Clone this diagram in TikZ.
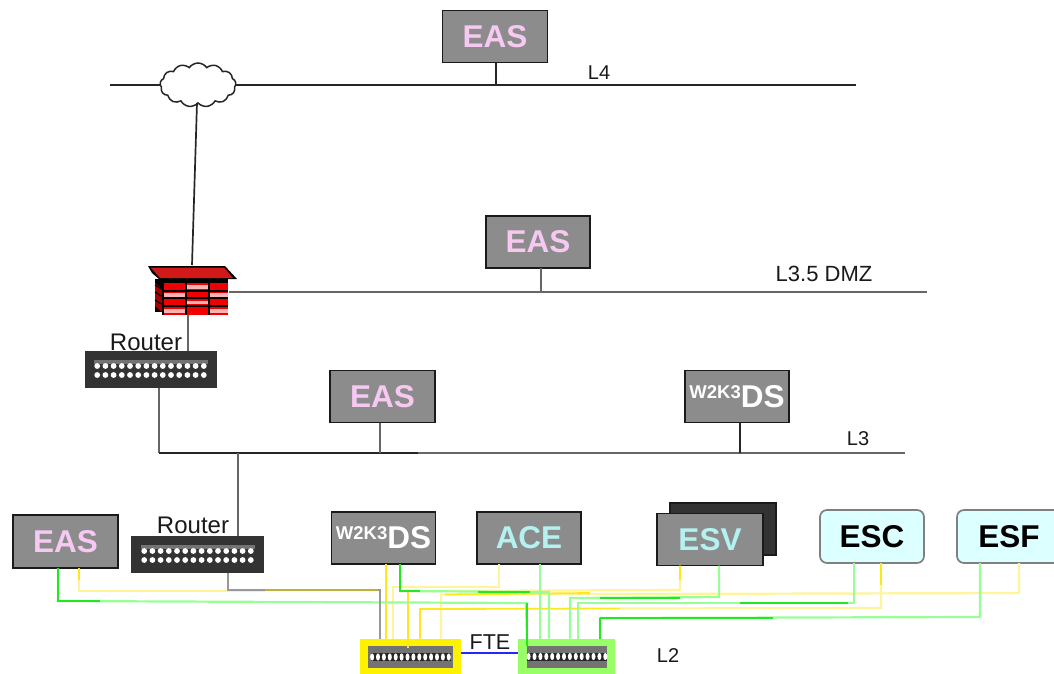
\documentclass[tikz,border=0pt]{standalone}
\usepackage{fontspec}
\setmainfont{Liberation Sans}
\usetikzlibrary{shapes.symbols,calc}
\definecolor{srvgray}{HTML}{8C8C8C}
\definecolor{edge}{HTML}{1A1A1A}
\definecolor{pinktxt}{HTML}{F6C8F2}
\definecolor{cyantxt}{HTML}{B4F2F2}
\definecolor{escfill}{HTML}{DCFFFF}
\definecolor{paley}{HTML}{FFF49A}
\definecolor{deepy}{HTML}{FFE81A}
\definecolor{paleg}{HTML}{98FF98}
\definecolor{deepg}{HTML}{22E822}
\definecolor{fwred}{HTML}{F00000}
\definecolor{swgreen}{HTML}{99FF66}
\tikzset{
  srv/.style={draw=edge,line width=1.7pt,fill=srvgray,minimum width=104pt,minimum height=52pt,inner sep=0pt,outer sep=0pt,font=\bfseries\fontsize{31.5}{31.5}\selectfont},
  pinkbox/.style={srv,text=pinktxt},
  cyanbox/.style={srv,text=cyantxt},
  svcbox/.style={draw=black!50,line width=1.7pt,rounded corners=7pt,fill=escfill,minimum width=104pt,minimum height=53pt,inner sep=0pt,outer sep=0pt,text=black,font=\bfseries\fontsize{31.5}{31.5}\selectfont},
  routerbox/.style={fill=black!80,minimum width=132pt,minimum height=37pt,inner sep=0pt,outer sep=0pt},
  lbl/.style={inner sep=0pt,text=black!90,font=\fontsize{20}{20}\selectfont},
  bus/.style={line width=2pt,draw=black!60},
  blk/.style={line width=1.7pt,draw=black!85},
  py/.style={line width=2.2pt,draw=paley},
  dy/.style={line width=1.8pt,draw=deepy},
  pg/.style={line width=2.2pt,draw=paleg},
  dg/.style={line width=1.8pt,draw=deepg},
  sw/.style={minimum width=97pt,minimum height=35pt,inner sep=0pt,outer sep=0pt},
  swin/.style={fill=black!55,minimum width=82pt,minimum height=22pt,inner sep=0pt,outer sep=0pt}
}
\newcommand{\rdots}[1]{%
  \begin{scope}[shift={(#1.center)}]
    \fill[black!55] (-57,-9.5) rectangle (57,-5.5);
    \foreach \i in {0,...,13}{
      \fill[white] (\i*8.2-53.3,-3) circle (2.9);
      \fill[white] (\i*8.2-53.3,6) circle (2.9);
    }
  \end{scope}}
\newcommand{\swdots}[1]{%
  \begin{scope}[shift={(#1.center)}]
    \fill[black!85] (-40,-4) rectangle (40,4);
    \foreach \i in {0,...,13}{
      \fill[white] (\i*5.9-38.4,0) ellipse (2 and 3.6);
    }
  \end{scope}}
\begin{document}
\begin{tikzpicture}[x=1pt,y=-1pt]
\useasboundingbox (0,0) rectangle (1054,673);
\clip (0,0) rectangle (1054,673);
% servers
\node[pinkbox,minimum width=105pt] (easT) at (495,36.5) {EAS};
\node[pinkbox] (easD) at (538,242) {EAS};
\node[pinkbox,minimum width=105pt] (easL) at (382.5,396.5) {EAS};
\node[srv,text=white] (dsU) at (737,396.5) {\raisebox{9pt}{\fontsize{18.5}{18}\selectfont W2K3}DS};
\node[pinkbox,minimum width=105pt,minimum height=53pt] (easB) at (65.5,541.5) {EAS};
\node[srv,text=white] (dsL) at (383.5,538) {\raisebox{9pt}{\fontsize{18.5}{18}\selectfont W2K3}DS};
\node[cyanbox] (ace) at (529,538) {ACE};
\node[srv,fill=black!80,minimum width=106pt] (esvB) at (723,529) {};
\node[cyanbox,minimum width=106pt] (esv) at (710,539.5) {ESV};
\node[svcbox] (esc) at (872,536.5) {ESC};
\node[svcbox] (esf) at (1009,536.5) {ESF};
% bus free ends
\coordinate (l4a) at (110,85);
\coordinate (l4b) at (856,85);
\coordinate (dmzb) at (927,292);
\coordinate (l3a) at (159,453);
\coordinate (l3m) at (418,453);
\coordinate (l3b) at (905,453);
% cloud
\draw[blk] (l4a) -- (l4b);
\node[cloud,cloud puffs=13,cloud puff arc=110,draw=black!85,fill=white,line width=1.5pt,minimum width=76pt,minimum height=44pt,inner sep=0pt,outer sep=0pt] (cloud) at (198,85) {};
% firewall
\node[minimum width=73pt,minimum height=50pt,inner sep=0pt,outer sep=0pt] (fw) at (192,290) {};
\draw[blk] (197,0 |- cloud.south) -- (192,0 |- fw.north);
\draw[bus] (fw.east |- dmzb) -- (dmzb);
% routers
\node[routerbox] (r1) at (150.5,369) {};
\node[routerbox,minimum width=133pt] (r2) at (197.5,554) {};
\rdots{r1}
\rdots{r2}
\draw[bus] (188,0 |- fw.south) -- (188,0 |- r1.north);
\draw[bus] (159,0 |- r1.south) -- (l3a);
\draw[blk] (l3a) -- (l3m);
\draw[bus] (l3m) -- (l3b);
\draw[bus] (238,0 |- l3a) -- (238,0 |- r2.north);
% firewall body
\fill[black] (148,266) -- (225,266) -- (237,279) -- (159,279) -- (152,273) -- cycle;
\fill[red!80!black!90!white] (150.5,267.5) -- (224,267.5) -- (233,278) -- (160,278) -- cycle;
\fill[black] (155,279) rectangle (228,312);
\fill[fwred] (163,283) rectangle (228,315);
\fill[fwred!70!black] (155,283) -- (163,290) -- (163,313) -- (155,306) -- cycle;
\foreach \yy in {291,298,306}{\draw[black,line width=1.1pt] (155,\yy-6) -- (163,\yy-1);\draw[black,line width=1.1pt] (163,\yy) -- (228,\yy);}
\draw[black,line width=1.4pt] (186,283) -- (186,315) (209,283) -- (209,315) (163,283) -- (163,315);
\foreach \xa/\xb/\ya in {187/208/285,164/185/293,210/228/293,187/208/300.5,164/185/309,210/228/309}{
  \fill[white!70!fwred] (\xa,\ya) rectangle (\xb,\ya+3.5);
}
% stems
\draw[blk] (496,0 |- easT.south) -- (496,0 |- l4a);
\draw[bus] (541,0 |- easD.south) -- (541,0 |- dmzb);
\draw[bus] (380,0 |- easL.south) -- (380,0 |- l3a);
\draw[blk] (740,0 |- dsU.south) -- (740,0 |- l3a);
% switches
\node[sw,fill=yellow,minimum width=101pt] (sy) at (410.5,656) {};
\node[sw,fill=swgreen,minimum width=97pt] (sg) at (566.5,656) {};
\node[swin,minimum width=85pt] (syi) at (410.5,657) {};
\node[swin,minimum width=80pt] (sgi) at (567,656.5) {};
\swdots{syi}
\swdots{sgi}
\draw[blue!85,line width=2pt] (sy.east |- 0,653) -- (sg.west |- 0,653);
% wires - yellow
\draw[py] (79,0 |- easB.south) -- (79,591) -- (265,591);
\draw[dy] (79,0 |- easB.south) -- (79,580);
\draw[py] (499,0 |- ace.south) -- (499,587) -- (393,587) -- (393,0 |- sy.north);
\draw[py] (1019,0 |- esf.south) -- (1019,593) -- (441,594.5) -- (441,0 |- sy.north);
\draw[py] (881,0 |- esc.south) -- (881,608) -- (620,608.5);
\draw[dy] (881,0 |- esc.south) -- (881,585);
\draw[dy] (620,608.5) -- (420,609) -- (420,0 |- sy.north);
\draw[py] (680,0 |- esv.south) -- (680,590) -- (408,591);
\draw[dy] (445,594.5) -- (590,593);
\draw[dy] (408,591) -- (408,648);
\draw[dy] (386,0 |- dsL.south) -- (386,0 |- sy.north);
\draw[dy] (680,0 |- esv.south) -- (680,580);
% wires - green
\draw[pg] (58,0 |- easB.south) -- (58,601) -- (526,603) -- (527,0 |- sgi.north);
\draw[dg] (58,0 |- easB.south) -- (58,601) -- (100,601);
\draw[pg] (400,591) -- (549,592) -- (549,0 |- sg.north);
\draw[dg] (400,0 |- dsL.south) -- (400,591) -- (420,591);
\draw[dg] (478,592) -- (530,592);
\draw[pg] (540,0 |- ace.south) -- (540,0 |- sg.north);
\draw[pg] (719,0 |- esv.south) -- (719,597) -- (570,598) -- (570,0 |- sg.north);
\draw[dg] (600,598) -- (680,598);
\draw[pg] (854,0 |- esc.south) -- (854,603) -- (578,603) -- (578,0 |- sg.north);
\draw[dg] (740,603) -- (848,603);
\draw[pg] (980,0 |- esf.south) -- (980,617) -- (600,618) -- (600,0 |- sg.north);
\draw[dg] (600,618) -- (773,618);
\draw[dg] (600,618) -- (600,0 |- sg.north);
\draw[dg] (527,603) -- (527,0 |- sgi.north);
% router 2 uplink to yellow switch
\draw[line width=2pt,draw=black!40] (228,0 |- r2.south) -- (228,590) -- (380,590) -- (380,0 |- sy.north);
\draw[line width=1.6pt,draw=yellow!70!black] (265,590) -- (378,590);
% labels
\node[lbl] (tL4) at (599,73) {L4};
\node[lbl,font=\fontsize{22}{22}\selectfont] (tDMZ) at (824,274) {L3.5 DMZ};
\node[lbl] (tL3) at (858,439) {L3};
\node[lbl,font=\fontsize{24}{24}\selectfont] (tR1) at (146,342) {Router};
\node[lbl,font=\fontsize{24}{24}\selectfont] (tR2) at (193,525) {Router};
\node[lbl,font=\fontsize{21.5}{21.5}\selectfont] (tFTE) at (490,642) {FTE};
\node[lbl] (tL2) at (668,656) {L2};
\end{tikzpicture}
\end{document}
